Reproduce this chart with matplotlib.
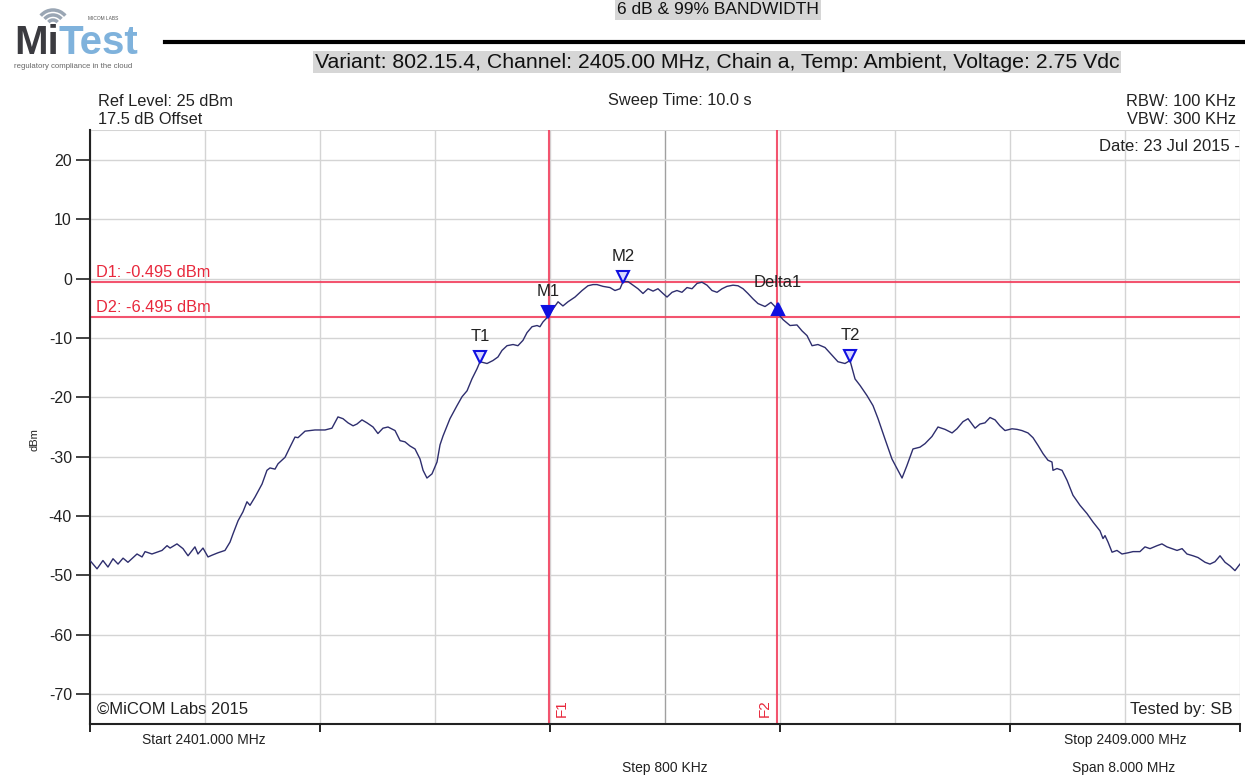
import numpy as np
import matplotlib.pyplot as plt
from matplotlib.lines import Line2D
from matplotlib.patches import Arc
from matplotlib.transforms import offset_copy

# Trace (MHz, dBm)
freq_mhz = [
    2401.000, 2401.049, 2401.090, 2401.125, 2401.160, 2401.195, 2401.230, 2401.264,
    2401.327, 2401.362, 2401.383, 2401.431, 2401.501, 2401.536, 2401.557, 2401.605,
    2401.647, 2401.682, 2401.730, 2401.751, 2401.786, 2401.821, 2401.849, 2401.890,
    2401.939, 2401.974, 2401.995, 2402.030, 2402.064, 2402.092, 2402.113, 2402.148,
    2402.197, 2402.231, 2402.252, 2402.287, 2402.308, 2402.357, 2402.391, 2402.426,
    2402.447, 2402.496, 2402.565, 2402.635, 2402.683, 2402.725, 2402.760, 2402.795,
    2402.830, 2402.857, 2402.892, 2402.927, 2402.969, 2403.003, 2403.038, 2403.073,
    2403.122, 2403.157, 2403.191, 2403.226, 2403.261, 2403.296, 2403.317, 2403.344,
    2403.379, 2403.414, 2403.435, 2403.456, 2403.504, 2403.553, 2403.588, 2403.623,
    2403.657, 2403.692, 2403.713, 2403.762, 2403.803, 2403.838, 2403.866, 2403.901,
    2403.943, 2403.977, 2404.012, 2404.040, 2404.075, 2404.110, 2404.130, 2404.151,
    2404.186, 2404.221, 2404.256, 2404.290, 2404.325, 2404.374, 2404.423, 2404.464,
    2404.499, 2404.527, 2404.569, 2404.617, 2404.652, 2404.687, 2404.708, 2404.743,
    2404.777, 2404.812, 2404.847, 2404.882, 2404.917, 2404.951, 2404.986, 2405.014,
    2405.049, 2405.083, 2405.118, 2405.153, 2405.188, 2405.223, 2405.257, 2405.292,
    2405.327, 2405.362, 2405.397, 2405.431, 2405.473, 2405.508, 2405.543, 2405.577,
    2405.612, 2405.647, 2405.696, 2405.737, 2405.765, 2405.786, 2405.821, 2405.870,
    2405.918, 2405.953, 2405.988, 2406.023, 2406.064, 2406.113, 2406.162, 2406.203,
    2406.252, 2406.287, 2406.322, 2406.357, 2406.405, 2406.447, 2406.482, 2406.530,
    2406.579, 2406.614, 2406.649, 2406.683, 2406.725, 2406.774, 2406.809, 2406.857,
    2406.899, 2406.948, 2406.997, 2407.031, 2407.073, 2407.108, 2407.157, 2407.191,
    2407.226, 2407.261, 2407.296, 2407.330, 2407.365, 2407.414, 2407.449, 2407.483,
    2407.525, 2407.560, 2407.595, 2407.630, 2407.664, 2407.692, 2407.699, 2407.727,
    2407.762, 2407.797, 2407.838, 2407.887, 2407.936, 2407.977, 2408.026, 2408.047,
    2408.061, 2408.082, 2408.110, 2408.144, 2408.179, 2408.221, 2408.256, 2408.304,
    2408.339, 2408.374, 2408.423, 2408.457, 2408.492, 2408.527, 2408.562, 2408.597,
    2408.631, 2408.673, 2408.708, 2408.757, 2408.791, 2408.826, 2408.861, 2408.896,
    2408.930, 2408.965, 2409.000,
]
level_dbm = [
    -47.5, -48.9, -47.5, -48.6, -47.2, -48.1, -47.1, -47.8,
    -46.4, -46.9, -46.0, -46.4, -45.8, -45.0, -45.4, -44.7,
    -45.5, -46.7, -45.2, -46.4, -45.4, -46.9, -46.6, -46.2,
    -45.8, -44.4, -43.0, -40.8, -39.3, -37.6, -38.2, -36.8,
    -34.6, -32.3, -31.9, -32.1, -31.2, -30.1, -28.4, -26.7,
    -26.8, -25.7, -25.5, -25.5, -25.2, -23.3, -23.6, -24.3,
    -24.8, -24.5, -23.8, -24.3, -25.0, -26.1, -25.2, -25.0,
    -25.6, -27.3, -27.5, -28.2, -28.7, -30.4, -32.3, -33.6,
    -32.9, -30.9, -28.0, -26.5, -23.6, -21.4, -19.9, -18.9,
    -16.9, -15.2, -14.0, -14.3, -13.8, -13.2, -12.1, -11.3,
    -11.1, -11.3, -10.4, -9.1, -8.1, -7.9, -8.1, -7.3,
    -6.4, -5.1, -3.9, -4.6, -3.9, -3.1, -2.0, -1.2,
    -1.0, -1.0, -1.3, -1.5, -2.0, -1.7, -0.5, -0.5,
    -1.1, -1.7, -2.5, -1.7, -2.1, -1.7, -2.5, -3.1,
    -2.3, -2.0, -2.3, -1.5, -1.7, -0.8, -0.6, -1.1,
    -2.0, -2.3, -1.7, -1.3, -1.1, -1.2, -1.7, -2.5,
    -3.4, -4.2, -4.7, -4.0, -4.7, -5.9, -6.9, -7.9,
    -7.8, -8.8, -9.6, -11.3, -11.1, -11.6, -12.9, -14.0,
    -14.3, -13.8, -16.9, -18.0, -19.7, -21.4, -23.6, -27.0,
    -30.4, -32.0, -33.6, -31.5, -28.7, -28.4, -27.8, -26.6,
    -25.0, -25.4, -26.0, -25.3, -24.1, -23.6, -25.2, -24.5,
    -24.3, -23.4, -23.8, -24.8, -25.6, -25.3, -25.4, -25.6,
    -26.0, -26.8, -28.1, -29.5, -30.6, -30.9, -32.3, -32.0,
    -32.3, -34.0, -36.5, -38.2, -39.6, -41.0, -42.5, -43.8,
    -43.3, -44.4, -46.1, -45.8, -46.4, -46.2, -46.0, -46.0,
    -45.2, -45.5, -45.0, -44.7, -45.2, -45.5, -45.8, -45.5,
    -46.4, -46.7, -47.0, -47.8, -48.1, -47.7, -46.7, -47.8,
    -48.4, -49.2, -48.1,
]

# markers: name, freq, level, filled, pointing up
marker_names = ['T1', 'M1', 'M2', 'Delta1', 'T2']
marker_freq = [2403.713, 2404.186, 2404.708, 2405.786, 2406.287]
marker_level = [-14.0, -6.4, -0.5, -5.9, -13.8]
marker_filled = [False, True, False, True, False]
marker_up = [False, False, False, True, False]

# display lines
d_lines = [-0.495, -6.495]
d_labels = ['D1: -0.495 dBm', 'D2: -6.495 dBm']
f_lines = [2404.195, 2405.780]
f_labels = ['F1', 'F2']

start_mhz, stop_mhz = 2401.0, 2409.0
ref_level, bottom_level = 25, -75

W, H = 1245, 781
plt.rcParams['font.family'] = ['Liberation Sans', 'DejaVu Sans']
plt.rcParams['axes.unicode_minus'] = False
fig = plt.figure(figsize=(W / 100, H / 100), dpi=100)

ax = fig.add_axes([90 / W, 1 - 723.7 / H, 1150 / W, 593.4 / H])
ax.set_xlim(start_mhz, stop_mhz)
ax.set_ylim(bottom_level, ref_level)

# graticule
for f in np.arange(start_mhz, stop_mhz + 0.01, 0.8):
    c = '#a0a0a0' if abs(f - 2405.0) < 0.01 else '#d4d4d4'
    ax.axvline(f, color=c, lw=1.0, zorder=1)
for lv in range(-70, 30, 10):
    ax.axhline(lv, color='#d4d4d4', lw=1.0, zorder=1)
ax.axhline(ref_level, color='#d4d4d4', lw=1.5, zorder=1)

for s in ['top', 'right']:
    ax.spines[s].set_visible(False)
for s in ['left', 'bottom']:
    ax.spines[s].set_linewidth(1.5)
    ax.spines[s].set_color('#222222')

ax.set_yticks(range(-70, 30, 10))
ax.tick_params(axis='y', direction='out', length=10, width=1.2, labelsize=11.5,
               colors='#222222', pad=3)
ax.set_xticks(np.arange(start_mhz, stop_mhz + 0.01, 1.6))
ax.set_xticklabels([])
ax.tick_params(axis='x', direction='out', length=6, width=1.2)

# display / frequency lines
red = '#f2415f'
for lv, lab in zip(d_lines, d_labels):
    ax.axhline(lv, color=red, lw=1.5, alpha=0.9, zorder=2)
    ax.text(start_mhz + 0.04, lv + 0.3, lab, color='#e8283c', fontsize=11.8,
            va='bottom', ha='left', zorder=3)
for f, lab in zip(f_lines, f_labels):
    ax.axvline(f, color=red, lw=1.5, alpha=0.9, zorder=2)
ax.text(f_lines[0] + 0.04, bottom_level + 1.2, f_labels[0], color='#e8283c',
        fontsize=11, rotation=90, va='bottom', ha='left')
ax.text(f_lines[1] - 0.04, bottom_level + 1.2, f_labels[1], color='#e8283c',
        fontsize=11, rotation=90, va='bottom', ha='right')

# trace
ax.plot(freq_mhz, level_dbm, color='#2e2e6e', lw=1.0, zorder=4)

# marker triangles sit just above the trace
tri_tr = offset_copy(ax.transData, fig=fig, x=0, y=5, units='dots')
for name, f, lv, filled, up in zip(marker_names, marker_freq, marker_level,
                                   marker_filled, marker_up):
    ax.plot([f], [lv], marker='^' if up else 'v', ms=9, mew=1.5,
            mec='#1010e0', mfc='#1010e0' if filled else '#d8d8ff',
            transform=tri_tr, zorder=5, clip_on=False)
    dy = 31 if name == 'Delta1' else 25
    ax.annotate(name, (f, lv), xytext=(0, dy), textcoords='offset pixels',
                ha='center', va='center', fontsize=12, color='#222222', zorder=6)

# corner annotations inside the graticule
ax.text(0.006, 0.012, '\u00a9MiCOM Labs 2015', transform=ax.transAxes,
        fontsize=12, color='#222222', va='bottom', ha='left')
ax.text(0.9935, 0.012, 'Tested by: SB', transform=ax.transAxes,
        fontsize=12, color='#222222', va='bottom', ha='right')
ax.text(0.9995, 0.985, 'Date: 23 Jul 2015 -', transform=ax.transAxes,
        fontsize=12, color='#222222', va='top', ha='right')

# analyser settings above and below the plot
def ftext(px, py, s, ha='left', size=11.8, **kw):
    fig.text(px / W, 1 - py / H, s, ha=ha, va='center', fontsize=size,
             color='#222222', **kw)

ftext(98, 101, 'Ref Level: 25 dBm')
ftext(98, 120, '17.5 dB Offset')
ftext(680, 101, 'Sweep Time: 10.0 s', ha='center')
ftext(1236, 101, 'RBW: 100 KHz', ha='right')
ftext(1236, 120, 'VBW: 300 KHz', ha='right')
ftext(204, 740, 'Start 2401.000 MHz', ha='center', size=10)
ftext(665, 768, 'Step 800 KHz', ha='center', size=10)
ftext(1125, 740, 'Stop 2409.000 MHz', ha='center', size=10)
ftext(1124, 768, 'Span 8.000 MHz', ha='center', size=10)
fig.text(35 / W, 1 - 440 / H, 'dBm', rotation=90, ha='center', va='center',
         fontsize=8, color='#222222')

# report header
narrow = ['Liberation Sans Narrow', 'Liberation Sans', 'DejaVu Sans']
fig.text(718 / W, 1 - 10 / H, '6 dB & 99% BANDWIDTH', ha='center', va='center',
         fontsize=12.5, family=narrow, color='#111111',
         bbox=dict(facecolor='#d6d6d6', edgecolor='none', pad=1.5))
fig.add_artist(Line2D([165 / W, 1.0], [1 - 42 / H] * 2, lw=3, color='black'))
fig.text(717 / W, 1 - 62 / H,
         'Variant: 802.15.4, Channel: 2405.00 MHz, Chain a, Temp: Ambient, Voltage: 2.75 Vdc',
         ha='center', va='center', fontsize=15.3, family=narrow, color='#111111',
         bbox=dict(facecolor='#d6d6d6', edgecolor='none', pad=1.0))

# logo
lax = fig.add_axes([0, 1 - 80 / H, 160 / W, 80 / H])
lax.set_xlim(0, 160)
lax.set_ylim(80, 0)
lax.axis('off')
for r in (6, 11, 16):
    lax.add_patch(Arc((53, 26), 2 * r, 2 * r, theta1=-140, theta2=-40,
                      color='#9aa6b4', lw=2.5))
lax.text(14, 54, 'Mi', fontsize=29, fontweight='bold', color='#3b3b40',
         va='baseline', ha='left', family=narrow)
lax.text(59, 54, 'Test', fontsize=29, fontweight='bold', color='#7fb2dc',
         va='baseline', ha='left', family=narrow)
lax.text(88, 19, 'MICOM LABS', fontsize=3.5, color='#555555', va='center')
lax.text(14, 67, 'regulatory compliance in the cloud', fontsize=5.6, color='#666666',
         va='center', ha='left', family=narrow)

fig.savefig('out.png', dpi=100)
